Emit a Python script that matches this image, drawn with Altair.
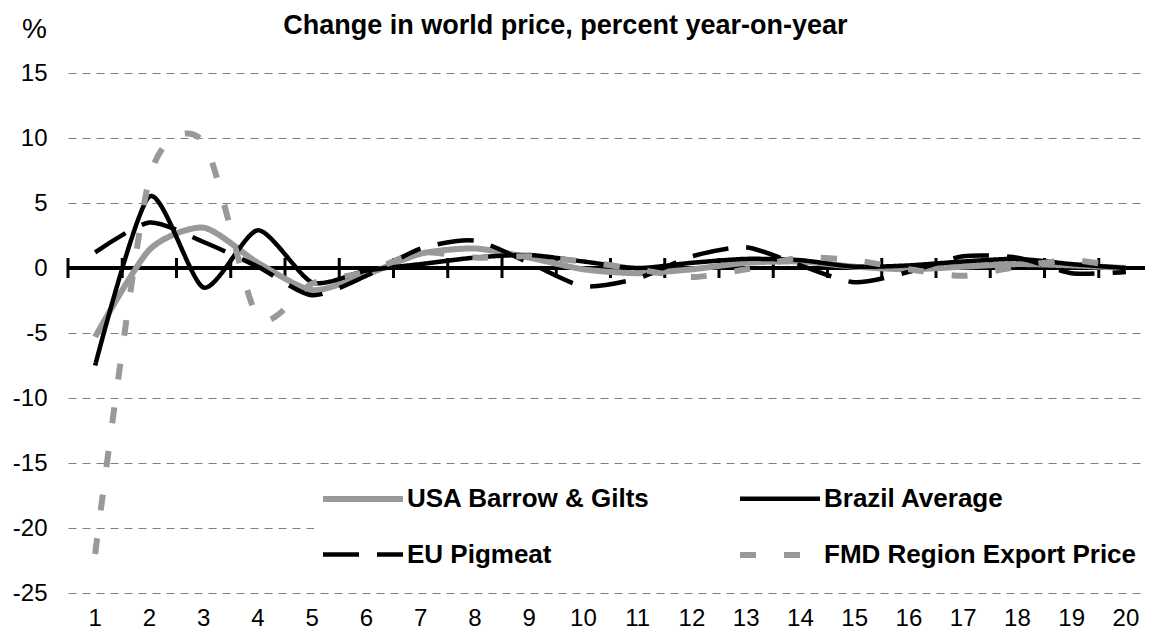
import altair as alt
import pandas as pd

cats = [str(i) for i in range(1, 21)]
series_names = ["USA Barrow & Gilts", "Brazil Average", "EU Pigmeat", "FMD Region Export Price"]
# legend lays out column by column: this order gives USA/Brazil on row 1, EU/FMD on row 2
legend_order = ["USA Barrow & Gilts", "EU Pigmeat", "Brazil Average", "FMD Region Export Price"]

usa = [-5.3, 1.4, 3.1, 0.4, -1.7, -0.5, 1.1, 1.5, 0.8, -0.1, -0.4, -0.1, 0.4, 0.5, 0.1, -0.1, 0.1, 0.3, 0.2, 0.0]
brazil = [-7.5, 5.5, -1.5, 2.9, -1.1, -0.2, 0.3, 0.8, 1.0, 0.5, 0.0, 0.4, 0.7, 0.6, 0.1, 0.2, 0.5, 0.7, 0.3, 0.0]
eu = [1.2, 3.5, 2.0, 0.1, -2.1, -0.6, 1.5, 2.1, 0.4, -1.4, -0.8, 0.9, 1.6, 0.2, -1.1, -0.3, 0.9, 0.8, -0.4, -0.3]
fmd = [-22.0, 6.9, 9.7, -3.8, -1.2, -0.3, 1.2, 0.8, 0.9, 0.5, -0.1, -0.7, -0.1, 0.8, 0.6, -0.1, -0.6, 0.1, 0.6, 0.0]

y_ticks = [-25, -20, -15, -10, -5, 0, 5, 10, 15]

style_color = {"USA Barrow & Gilts": "#999999", "Brazil Average": "#000000",
               "EU Pigmeat": "#000000", "FMD Region Export Price": "#999999"}
style_dash = {"USA Barrow & Gilts": [1, 0], "Brazil Average": [1, 0],
              "EU Pigmeat": [36, 18], "FMD Region Export Price": [16, 28]}
style_width = {"USA Barrow & Gilts": 6, "Brazil Average": 4.5,
               "EU Pigmeat": 4.5, "FMD Region Export Price": 6}

rows = []
for name, vals in zip(series_names, [usa, brazil, eu, fmd]):
    for c, v in zip(cats, vals):
        rows.append({"cat": c, "series": name, "value": v})
df = pd.DataFrame(rows)

FONT = "Liberation Sans"

x_scale = alt.Scale(type="band", paddingInner=0, paddingOuter=0, domain=cats)
y_scale = alt.Scale(domain=[-25, 15], nice=False, zero=False)

y_axis = alt.Axis(values=y_ticks, grid=True, gridDash=[8, 6], gridColor="#808080",
                  gridWidth=1, gridOpacity=1, domain=False, ticks=False,
                  labelFontSize=24, labelFont=FONT, labelColor="black",
                  labelPadding=21, labelExpr="'' + datum.value",
                  title="%", titleAngle=0, titleAlign="center",
                  titleBaseline="alphabetic", titleX=-34, titleY=-36,
                  titleFontSize=28, titleFont=FONT, titleFontWeight="normal",
                  titleColor="black")
x_axis = alt.Axis(orient="bottom", domain=False, ticks=False, grid=False,
                  labelFontSize=24, labelFont=FONT, labelColor="black",
                  labelPadding=13, labelAngle=0)

leg = alt.Legend(
    title=None, orient="none", legendX=246, legendY=397, columns=2,
    symbolType="M-1,0H3", symbolSize=1600, labelOffset=41,
    labelFontSize=26, labelFont=FONT, labelFontWeight="bold", labelColor="black",
    columnPadding=78, rowPadding=20, fillColor="white", padding=6,
    gridAlign="each", labelLimit=0, symbolOpacity=1,
)

lines = alt.Chart(df).mark_line(interpolate="cardinal", tension=0.3, strokeCap="butt").encode(
    x=alt.X("cat:O", scale=x_scale, sort=cats, title=None, axis=x_axis),
    y=alt.Y("value:Q", scale=y_scale, axis=y_axis),
    color=alt.Color("series:N", scale=alt.Scale(domain=legend_order,
                    range=[style_color[s] for s in legend_order]), legend=leg),
    strokeDash=alt.StrokeDash("series:N", scale=alt.Scale(domain=legend_order,
                              range=[style_dash[s] for s in legend_order]), legend=leg),
    strokeWidth=alt.StrokeWidth("series:N", scale=alt.Scale(type="ordinal", domain=legend_order,
                                range=[style_width[s] for s in legend_order]), legend=leg),
)

zero_df = pd.DataFrame({"v": [0]})
zero = alt.Chart(zero_df).mark_rule(color="black", strokeWidth=4).encode(
    y=alt.Y("v:Q", scale=y_scale, axis=y_axis)
)

tick_df = pd.DataFrame({"cat": cats, "v": [0] * len(cats)})
ticks = alt.Chart(tick_df).mark_tick(orient="vertical", size=20, thickness=3, color="black",
                                     opacity=1).encode(
    x=alt.X("cat:O", scale=x_scale, sort=cats, title=None, axis=x_axis, bandPosition=0),
    y=alt.Y("v:Q", scale=y_scale, axis=y_axis),
)

chart = alt.layer(zero, ticks, lines).properties(
    width=1085, height=520,
    title=alt.TitleParams("Change in world price, percent year-on-year", font=FONT,
                          fontSize=27, fontWeight="bold", color="black",
                          anchor="start", dx=271, dy=41, offset=16),
    autosize=alt.AutoSizeParams(type="none"),
    padding={"left": 60, "top": 65, "right": -8, "bottom": 43},
).configure_view(stroke=None)

chart.save("out.html", embed_options={"renderer": "svg", "actions": False})
